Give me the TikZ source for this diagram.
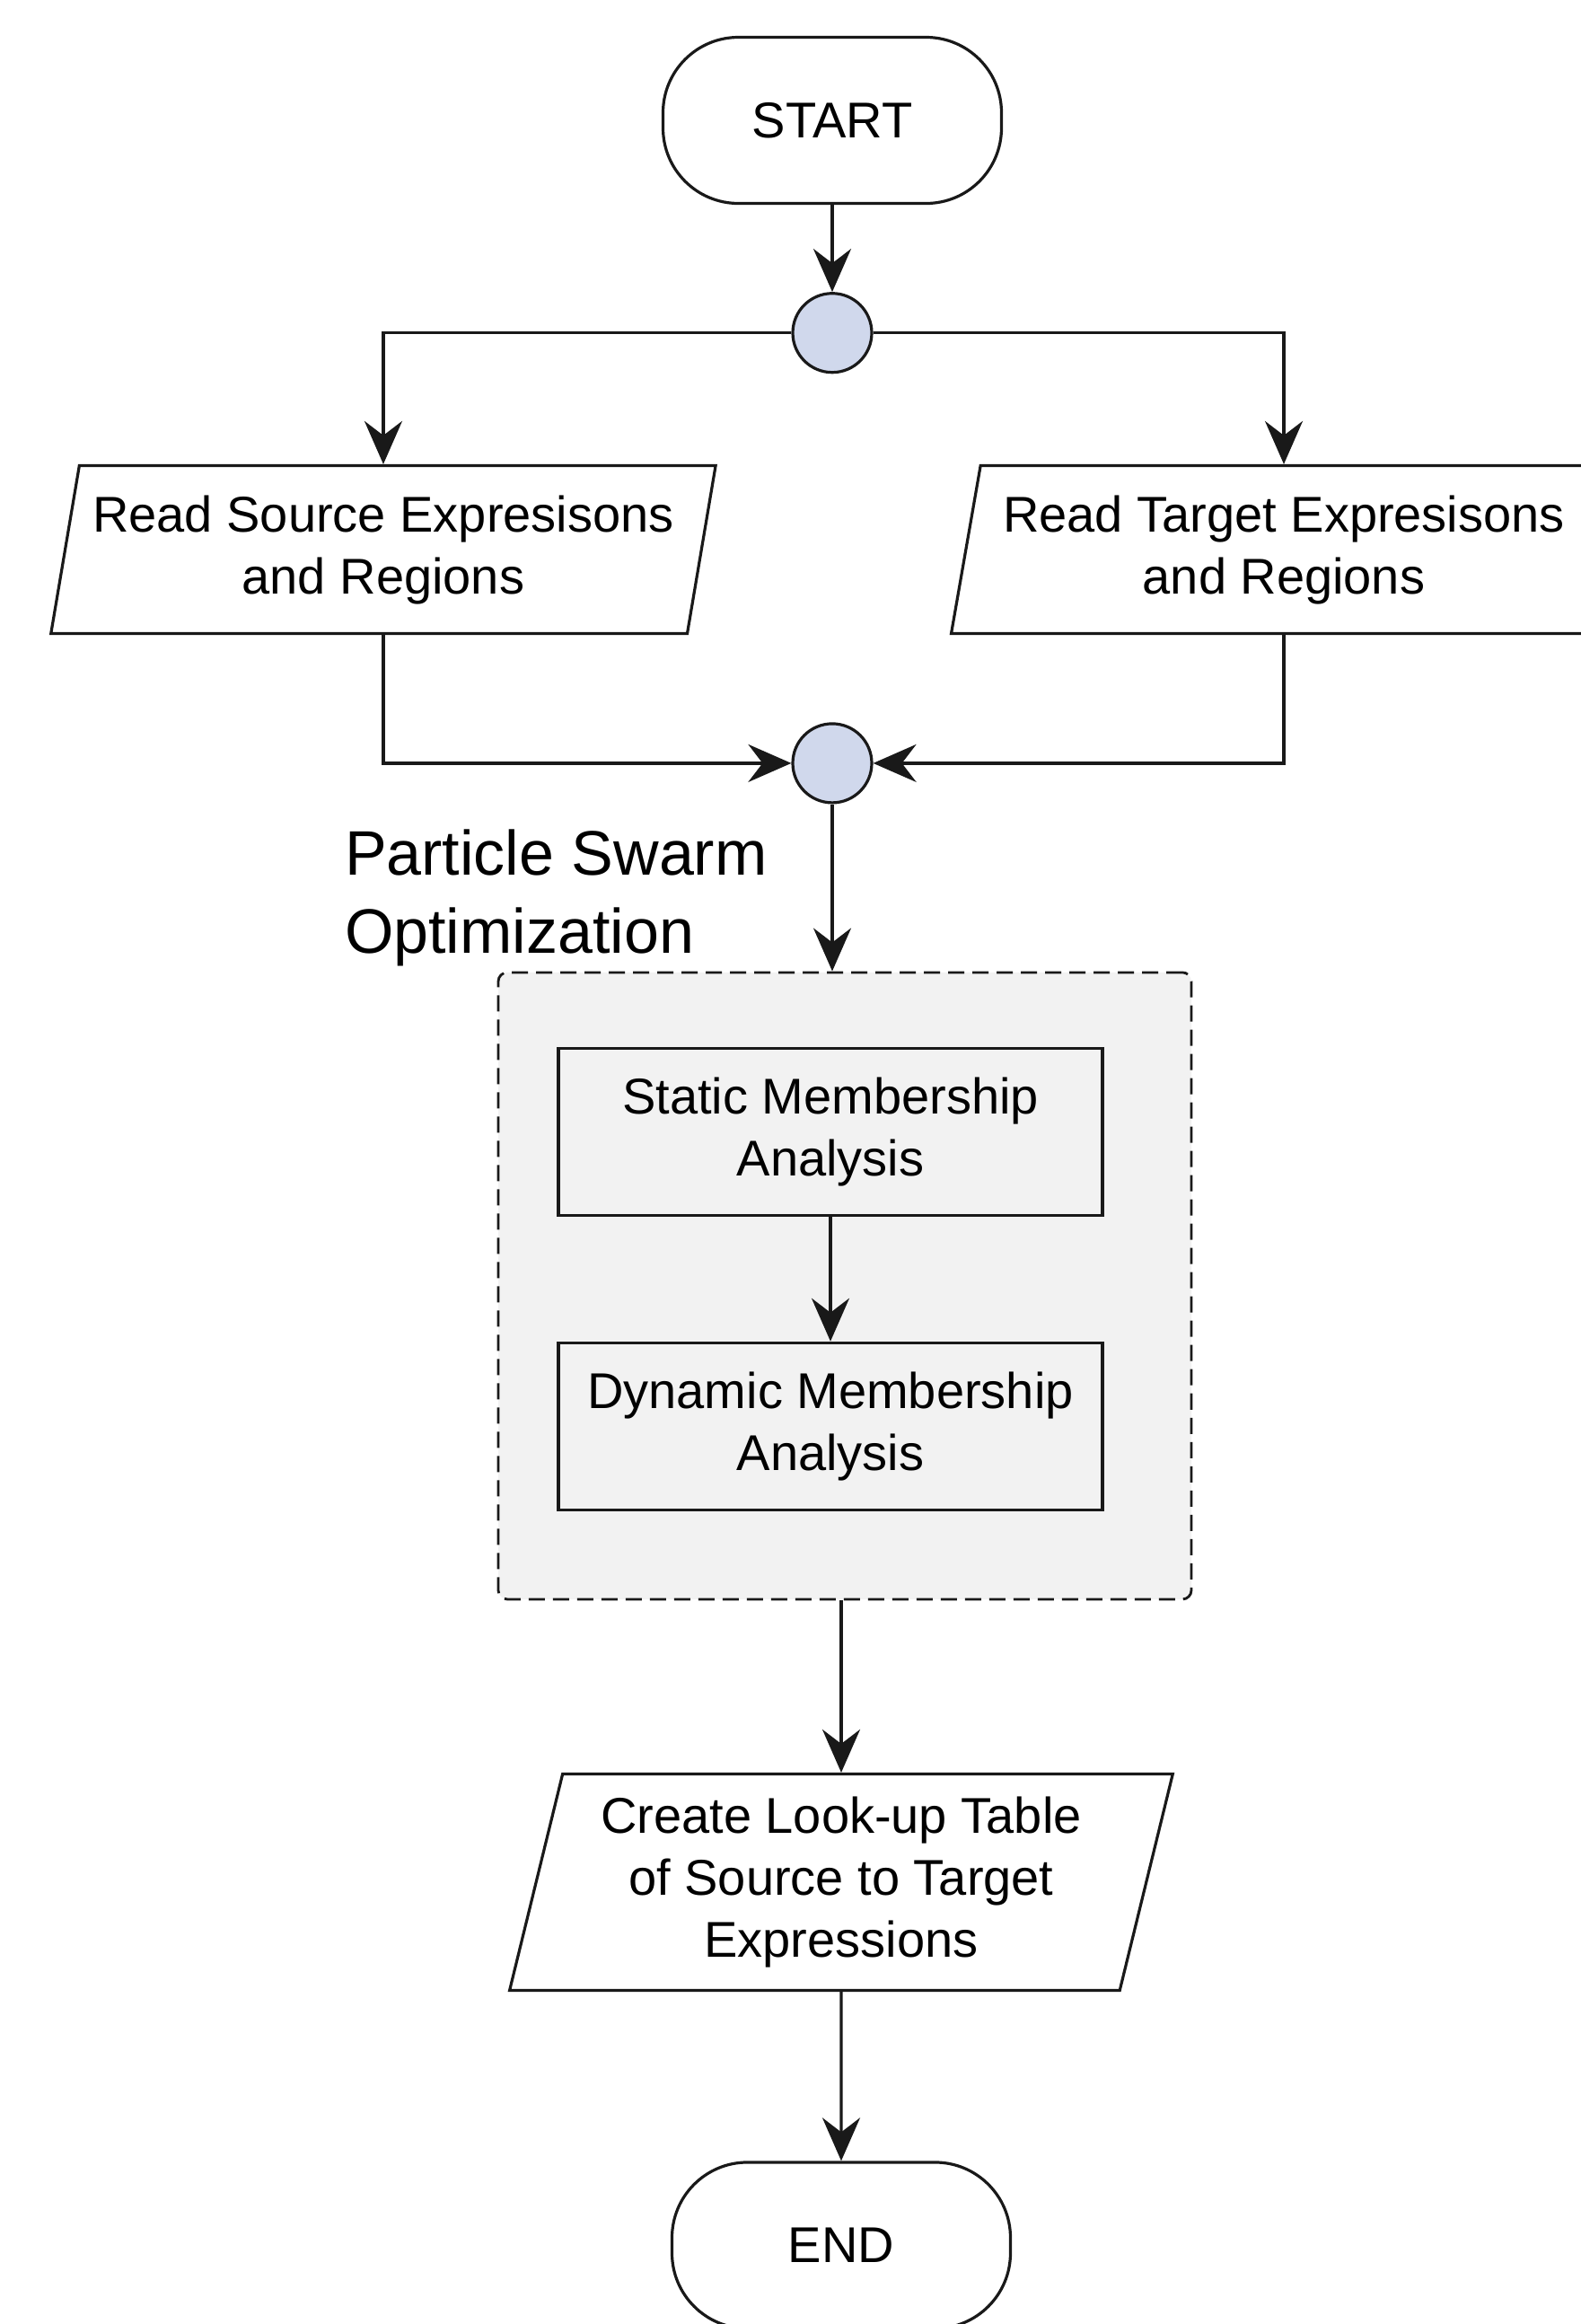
\documentclass[tikz,border=0pt]{standalone}
\usepackage{fontspec}
\setmainfont{Liberation Sans}
\usepackage{xcolor}
\usepackage{tikz}
\usetikzlibrary{shapes.geometric, arrows.meta, positioning}
\definecolor{flowDark}{RGB}{25,25,25}
\definecolor{junctionBlue}{RGB}{208,216,236}
\definecolor{groupGray}{RGB}{242,242,242}

\begin{document}
\begin{tikzpicture}[x=1pt, y=1pt,
terminal/.style={rectangle, rounded corners=42pt, draw=flowDark, line width=1.6pt,
minimum width=188.5pt, minimum height=92.5pt, align=center,
font=\fontsize{28}{34.5}\selectfont},
junction/.style={circle, draw=flowDark, line width=1.6pt, fill=junctionBlue,
minimum size=44pt, inner sep=0pt},
iobox/.style={trapezium, trapezium left angle=76, trapezium right angle=104,
trapezium stretches=true, draw=flowDark, line width=1.6pt,
minimum width=370.5pt, minimum height=93.5pt, inner sep=0pt, align=center,
font=\fontsize{28}{34.5}\selectfont},
procbox/.style={rectangle, draw=flowDark, line width=1.6pt, fill=groupGray,
minimum width=303pt, minimum height=93pt, align=center,
font=\fontsize{28}{34.5}\selectfont},
groupbox/.style={rectangle, rounded corners=5pt, draw=flowDark, line width=1.4pt,
dash pattern=on 9pt off 4.5pt, fill=groupGray,
minimum width=386pt, minimum height=349pt},
grouplabel/.style={inner sep=0pt, align=left, font=\fontsize{35}{43.5}\selectfont},
arrow/.style={-{Stealth[length=24pt, width=21pt, inset=8pt]}, line width=1.6pt, color=flowDark}]

\useasboundingbox (0,0) rectangle (880.5,-1294);
\clip (0,0) rectangle (880.5,-1294);

\node[terminal] (start) at (463.5,-67) {START};
\node[junction, below=48.5pt of start] (junA) {};
\node[iobox, below=50.3pt of junA, xshift=-250pt] (srcread)
    {Read Source Expresisons\\and Regions};
\node[iobox, below=50.3pt of junA, xshift=251.5pt] (tgtread)
    {Read Target Expresisons\\and Regions};
\node[junction, below=194pt of junA] (junB) {};
\node[groupbox, below=93pt of junB, xshift=7pt] (pso) {};
\node[grouplabel, anchor=south west] (psolabel) at ([xshift=-85pt, yshift=2.5pt]pso.north west)
    {Particle Swarm\\Optimization};
\node[procbox, below=42pt of pso.north, xshift=-8pt] (static)
    {Static Membership\\Analysis};
\node[procbox, below=69.5pt of static] (dynamic)
    {Dynamic Membership\\Analysis};
\node[iobox, trapezium left angle=75, trapezium right angle=105, minimum height=120.5pt,
    below=95.8pt of pso, xshift=-2pt] (lookup)
    {Create Look-up Table\\of Source to Target\\Expressions};
\node[terminal, below=94.1pt of lookup] (finish) {END};

\draw[arrow] (start)   -- (junA);
\draw[arrow] (junA)    -| (srcread);
\draw[arrow] (junA)    -| (tgtread);
\draw[arrow] (srcread) |- (junB);
\draw[arrow] (tgtread) |- (junB);
\draw[arrow] (junB)    -- (junB |- pso.north);
\draw[arrow] (static)  -- (dynamic);
\draw[arrow] (pso.south -| lookup.north) -- (lookup.north);
\draw[arrow] (lookup)  -- (finish);
\end{tikzpicture}
\end{document}
